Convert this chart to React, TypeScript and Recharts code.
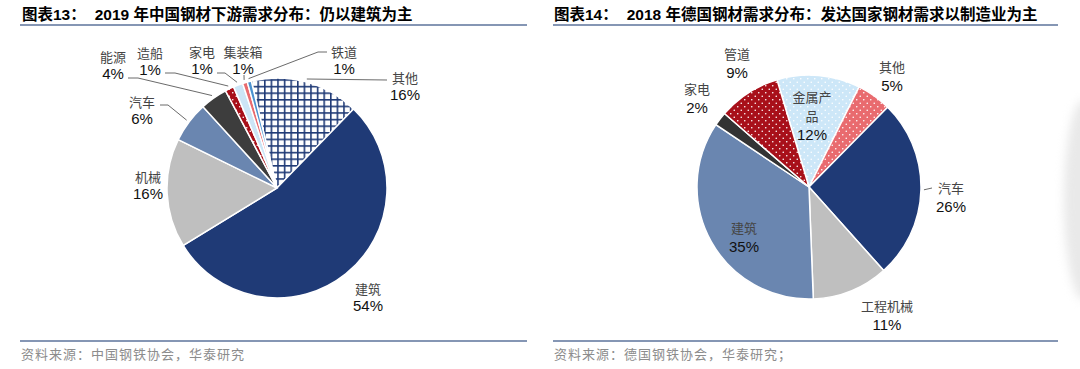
import { PieChart, Pie, Cell } from "recharts";

// 图表13：2019 年中国钢材下游需求分布（顺时针，从“其他”开始）
const chinaNames = ["其他", "建筑", "机械", "汽车", "能源", "造船", "家电", "集装箱", "铁道"];
const chinaShares = [16, 54, 16, 6, 4, 1.3, 1.4, 0.7, 0.6];
const chinaFills = [
  "url(#cn-grid)",
  "#1f3a76",
  "#bfbfbf",
  "#6a86b0",
  "#3d3d3d",
  "url(#cn-dots)",
  "#cce5f6",
  "#e96b6f",
  "#4b92d0",
];

// 图表14：2018 年德国钢材需求分布（顺时针，从“金属产品”开始）
const germanyNames = ["金属产品", "其他", "汽车", "工程机械", "建筑", "家电", "管道"];
const germanyShares = [12, 5, 26, 11, 35, 2, 9];
const germanyFills = [
  "url(#de-dots-blue)",
  "url(#de-dots-pink)",
  "#1f3a76",
  "#bfbfbf",
  "#6a86b0",
  "#333333",
  "url(#de-dots-red)",
];

const chinaData = chinaNames.map((name, i) => ({ name, value: chinaShares[i] }));
const germanyData = germanyNames.map((name, i) => ({ name, value: germanyShares[i] }));

// 标签位置：相对于饼图圆心的偏移（文字块第一行中心），以及引导线的折点
type LabelSpot = { dx: number; dy: number; line?: [number, number][]; wrap?: number };

const chinaSpots: LabelSpot[] = [
  { dx: 128, dy: -111, line: [[110, -108]] },
  { dx: 91, dy: 100 },
  { dx: -129, dy: -12 },
  { dx: -135, dy: -87, line: [[-109, -83], [-117, -83]] },
  { dx: -164, dy: -132, line: [[-139, -110], [-149, -110]] },
  { dx: -127, dy: -136, line: [[-102, -115], [-112, -115]] },
  { dx: -75, dy: -137, line: [[-52, -115], [-60, -115]] },
  { dx: -34, dy: -137, line: [[-33, -113]] },
  { dx: 67, dy: -137, line: [[41, -136], [50, -136]] },
];

const germanySpots: LabelSpot[] = [
  { dx: 3, dy: -91, wrap: 3 },
  { dx: 83, dy: -121 },
  { dx: 142, dy: 0, line: [[123, 1]] },
  { dx: 78, dy: 118 },
  { dx: -65, dy: 40 },
  { dx: -112, dy: -99 },
  { dx: -72, dy: -134 },
];

const RAD = Math.PI / 180;
const nameFont = "'Noto Sans CJK SC', sans-serif";
const numFont = "'Liberation Sans', Arial, sans-serif";

function makeLabel(spots: LabelSpot[], gap: number) {
  return (props: any) => {
    const { cx, cy, midAngle, outerRadius, index, percent, name } = props;
    const spot = spots[index];
    const x = cx + spot.dx;
    const y = cy + spot.dy;
    const pct = `${Math.round(percent * 100)}%`;
    const nameLines: string[] = [];
    const label = String(name);
    const step = spot.wrap || label.length;
    for (let i = 0; i < label.length; i += step) nameLines.push(label.slice(i, i + step));

    let line = null;
    if (spot.line) {
      const r = outerRadius + 3;
      const sx = cx + r * Math.cos(-midAngle * RAD);
      const sy = cy + r * Math.sin(-midAngle * RAD);
      const pts = [[sx, sy], ...spot.line.map(([px, py]) => [cx + px, cy + py])];
      line = (
        <polyline
          points={pts.map((p) => p.join(",")).join(" ")}
          fill="none"
          stroke="#595959"
          strokeWidth={0.9}
        />
      );
    }

    return (
      <g key={`lbl-${index}`}>
        {line}
        {nameLines.map((t, i) => (
          <text
            key={i}
            x={x}
            y={y + i * gap}
            textAnchor="middle"
            dominantBaseline="central"
            fontFamily={nameFont}
            fontSize={13}
            fill="#454545"
          >
            {t}
          </text>
        ))}
        <text
          x={x}
          y={y + nameLines.length * gap}
          textAnchor="middle"
          dominantBaseline="central"
          fontFamily={numFont}
          fontSize={15}
          fill="#111"
        >
          {pct}
        </text>
      </g>
    );
  };
}

function DotPattern({ id, color }: { id: string; color: string }) {
  return (
    <pattern id={id} width={7} height={7} patternUnits="userSpaceOnUse">
      <rect width={7} height={7} fill={color} />
      <circle cx={1.75} cy={1.75} r={0.8} fill="#fff" />
      <circle cx={5.25} cy={5.25} r={0.8} fill="#fff" />
    </pattern>
  );
}

const titleStyle: React.CSSProperties = {
  position: "absolute",
  top: 5,
  fontSize: 15.5,
  lineHeight: "20px",
  fontWeight: 700,
  fontFamily: "'Liberation Sans', 'Noto Sans CJK SC', sans-serif",
  color: "#000",
  whiteSpace: "nowrap",
};

const sourceStyle: React.CSSProperties = {
  position: "absolute",
  top: 346,
  fontSize: 13,
  lineHeight: "16px",
  letterSpacing: 1,
  fontFamily: nameFont,
  color: "#8c8c8c",
  whiteSpace: "nowrap",
};

const rule = (left: number, top: number, width: number): React.CSSProperties => ({
  position: "absolute",
  left,
  top,
  width,
  height: 2,
  background: "#8596b4",
});

export default function App() {
  return (
    <div
      style={{
        position: "absolute",
        left: 0,
        top: 0,
        width: 1080,
        height: 369,
        background: "#fff",
        overflow: "hidden",
      }}
    >
      <div style={{ ...titleStyle, left: 22 }}>
        图表13：<span style={{ marginLeft: 9 }}>2019 年中国钢材下游需求分布：仍以建筑为主</span>
      </div>
      <div style={{ ...titleStyle, left: 554 }}>
        图表14：<span style={{ marginLeft: 9 }}>2018 年德国钢材需求分布：发达国家钢材需求以制造业为主</span>
      </div>
      <div style={rule(20, 24, 507)} />
      <div style={rule(553, 24, 505)} />
      <div style={rule(20, 340, 507)} />
      <div style={rule(553, 340, 505)} />
      <div style={{ ...sourceStyle, left: 21 }}>资料来源：中国钢铁协会，华泰研究</div>
      <div style={{ ...sourceStyle, left: 554 }}>资料来源：德国钢铁协会，华泰研究；</div>

      {/* 右侧边缘的灰色阴影 */}
      <div
        style={{
          position: "absolute",
          left: 1064,
          top: 100,
          width: 40,
          height: 200,
          borderRadius: "50%",
          background: "#e9e9e9",
          filter: "blur(5px)",
        }}
      />

      <div style={{ position: "absolute", left: 0, top: 0 }}>
        <PieChart width={540} height={369}>
          <defs>
            <pattern id="cn-grid" width={6.6} height={6.6} patternUnits="userSpaceOnUse">
              <rect width={6.6} height={6.6} fill="#1f3a76" />
              <rect x={1.6} y={1.6} width={5} height={5} fill="#fff" />
            </pattern>
            <DotPattern id="cn-dots" color="#a8101a" />
          </defs>
          <Pie
            data={chinaData}
            dataKey="value"
            nameKey="name"
            cx={272}
            cy={183}
            outerRadius={110}
            startAngle={103.5}
            endAngle={-256.5}
            stroke="#fff"
            strokeWidth={1.5}
            label={makeLabel(chinaSpots, 17)}
            labelLine={false}
            isAnimationActive={false}
          >
            {chinaData.map((d, i) => (
              <Cell key={d.name} fill={chinaFills[i]} />
            ))}
          </Pie>
        </PieChart>
      </div>

      <div style={{ position: "absolute", left: 540, top: 0 }}>
        <PieChart width={540} height={369}>
          <defs>
            <DotPattern id="de-dots-blue" color="#cde7f8" />
            <DotPattern id="de-dots-pink" color="#e96b6f" />
            <DotPattern id="de-dots-red" color="#a8101a" />
          </defs>
          <Pie
            data={germanyData}
            dataKey="value"
            nameKey="name"
            cx={264}
            cy={182}
            outerRadius={112}
            startAngle={106.6}
            endAngle={-253.4}
            stroke="#fff"
            strokeWidth={1.5}
            label={makeLabel(germanySpots, 19)}
            labelLine={false}
            isAnimationActive={false}
          >
            {germanyData.map((d, i) => (
              <Cell key={d.name} fill={germanyFills[i]} />
            ))}
          </Pie>
        </PieChart>
      </div>
    </div>
  );
}
